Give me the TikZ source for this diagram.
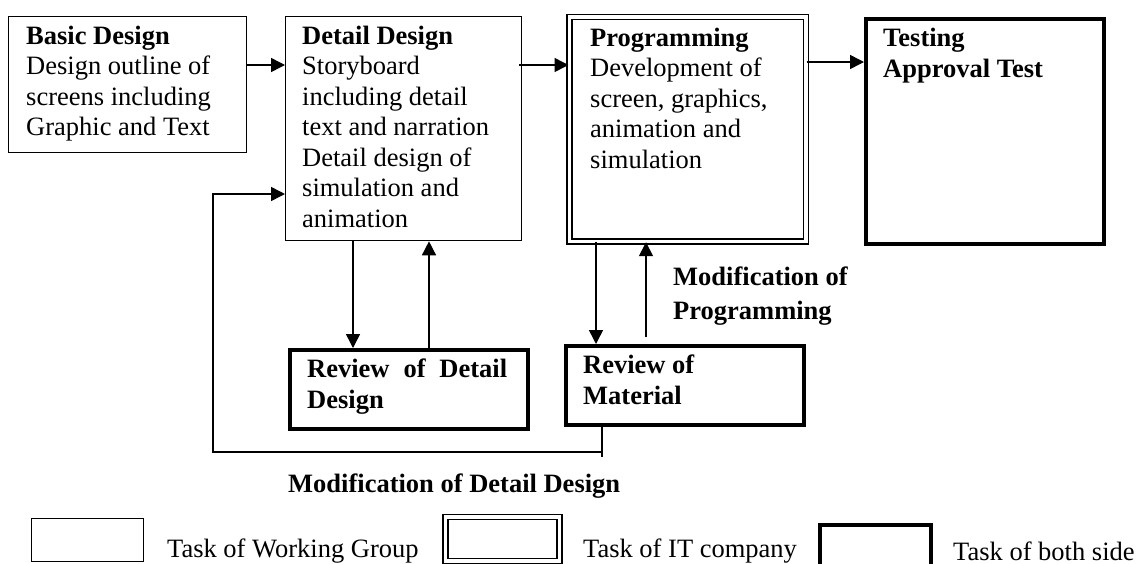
\documentclass[tikz,border=0pt]{standalone}
\usepackage{fontspec}
\setmainfont{Liberation Serif}
\usetikzlibrary{arrows.meta}

% left-aligned stack of lines whose reference point is the first baseline
\newcommand{\txtlines}[1]{\begin{tabular}[t]{@{}l@{}}#1\end{tabular}}

\begin{document}
\begin{tikzpicture}[x=1pt,y=-1pt,
  thinbox/.style={draw, line width=1.3pt, inner sep=0pt, anchor=north west},
  thickbox/.style={draw, line width=3.6pt, inner sep=0pt, anchor=north west},
  dblbox/.style={draw, double, line width=1.7pt, double distance=3.3pt, inner sep=0pt, anchor=north west},
  txt/.style={inner sep=0pt, anchor=base west, font=\fontsize{26.5}{30.5}\selectfont},
  btxt/.style={txt, font=\fontsize{26.5}{31}\selectfont\bfseries},
  conn/.style={line width=1.5pt},
  arr/.style={conn, -{Triangle[length=14pt,width=14pt]}}]

\clip (0,0) rectangle (1137,563);
\fill[white] (0,0) rectangle (1137,563);

% process boxes
\node[thinbox, minimum width=238pt, minimum height=136pt] (basic) at (8,16) {};
\node[thinbox, minimum width=236pt, minimum height=224pt] (detail) at (285,16) {};
\node[dblbox, minimum width=236.5pt, minimum height=224.5pt] (prog) at (568.5,16) {};
\node[thickbox, minimum width=238pt, minimum height=225pt] (test) at (864,17) {};
\node[thickbox, minimum width=238pt, minimum height=79pt] (revdd) at (288,348) {};
\node[thickbox, minimum width=238pt, minimum height=79pt] (revmat) at (564,344) {};

% box texts
\node[txt] (basicT) at (26,44) {\txtlines{\textbf{Basic Design}\\Design outline of\\screens including\\Graphic and Text}};
\node[txt] (detailT) at (302,44) {\txtlines{\textbf{Detail Design}\\Storyboard\\including detail\\text and narration\\Detail design of\\simulation and\\animation}};
\node[txt] (progT) at (590,46) {\txtlines{\textbf{Programming}\\Development of\\screen, graphics,\\animation and\\simulation}};
\node[btxt] (testT) at (883,46) {\txtlines{Testing\\Approval Test}};
\node[btxt] (revddT) at (307,377) {\txtlines{\makebox[200pt][s]{Review of Detail}\\Design}};
\node[btxt] (revmatT) at (583,373) {\txtlines{Review of\\Material}};

% labels of the loops
\node[btxt, font=\fontsize{26.5}{34}\selectfont\bfseries] (modprog) at (673,285) {\txtlines{Modification of\\Programming}};
\node[btxt] (moddd) at (288,492) {Modification of Detail Design};

% main flow
\draw[arr] (basic.east |- 0,65) -- (detail.west |- 0,65);
\draw[arr] (519,65) -- (prog.west |- 0,65);
\draw[arr] (prog.east |- 0,62) -- (test.west |- 0,62);

% review loops
\draw[arr] (detail.south -| 353,0) -- (revdd.north -| 353,0);
\draw[arr] (revdd.north -| 429,0) -- (detail.south -| 429,0);
\draw[arr] (prog.south -| 596,0) -- (revmat.north -| 596,0);
\draw[arr] (646,337) -- (prog.south -| 646,0);

% return path to detail design
\draw[conn] (revmat.south -| 602,0) -- (602,457);
\draw[arr] (602,452) -- (213,452) -- (213,194) -- (detail.west |- 0,194);

% legend
\node[thinbox, minimum width=112pt, minimum height=43pt] (legWG) at (31,518) {};
\node[txt] (legWGT) at (167,557) {Task of Working Group};
\node[dblbox, minimum width=114pt, minimum height=44pt] (legIT) at (444.5,516) {};
\node[txt] (legITT) at (583,557) {Task of IT company};
\node[thickbox, minimum width=111pt, minimum height=60pt] (legBoth) at (818,523) {};
\node[txt] (legBothT) at (953,560) {Task of both side};
\end{tikzpicture}
\end{document}
